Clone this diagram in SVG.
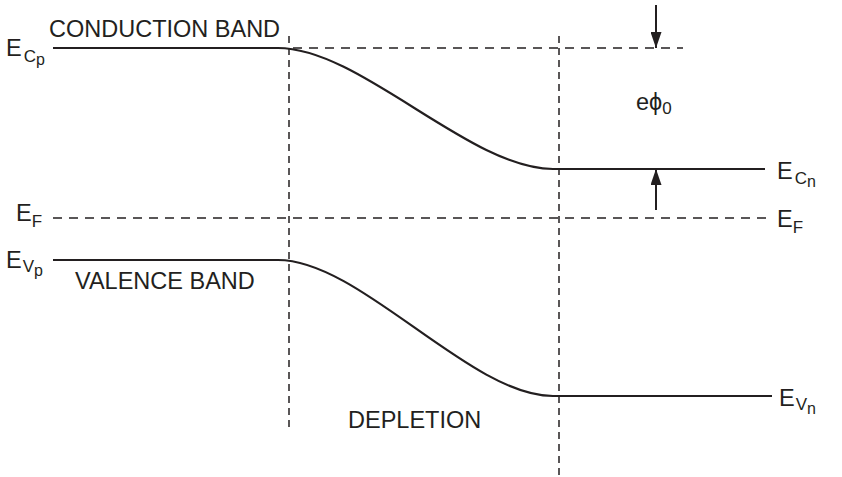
<svg xmlns="http://www.w3.org/2000/svg" width="842" height="477" viewBox="0 0 842 477">
<defs>
<style>
.band{fill:none;stroke:#231f20;stroke-width:2.2}
.dash{fill:none;stroke:#231f20;stroke-width:1.5;stroke-dasharray:9 7}
.vdash{fill:none;stroke:#231f20;stroke-width:1.5;stroke-dasharray:7 5}
.arrow{fill:none;stroke:#231f20;stroke-width:2}
text{font-family:"Liberation Sans",Arial,sans-serif;fill:#231f20}
.lbl{font-size:23.5px}
.sub{font-size:17px}
.sub2{font-size:16px}
</style>
<marker id="ah" markerWidth="16" markerHeight="11" refX="16" refY="5.5" orient="auto" markerUnits="userSpaceOnUse" viewBox="0 0 16 11">
<path d="M0,0 L16,5.5 L0,11 Z" fill="#231f20"/>
</marker>
</defs>
<rect width="842" height="477" fill="#fff"/>
<g id="connectors">
<line class="dash" x1="293" y1="48" x2="683" y2="48"/>
<line class="dash" x1="53" y1="218" x2="767" y2="218"/>
<line class="vdash" x1="289" y1="36" x2="289" y2="432"/>
<line class="vdash" x1="559" y1="36" x2="559" y2="477"/>
<line class="arrow" x1="656" y1="5" x2="656" y2="48" marker-end="url(#ah)"/>
<line class="arrow" x1="656" y1="210" x2="656" y2="169" marker-end="url(#ah)"/>
</g>
<g id="conduction-band">
<path class="band" d="M53,48 L278,48 C360,48 470,169 553,169 L765,169"/>
</g>
<g id="valence-band">
<path class="band" d="M53,260 L278,260 C360,260 470,396 553,396 L772,396"/>
</g>
<g id="labels">
<text class="lbl" x="49" y="37">CONDUCTION BAND</text>
<text class="lbl" x="6" y="56">E<tspan class="sub" dx="2" dy="6">C</tspan><tspan class="sub2" dy="3">p</tspan></text>
<text class="lbl" x="636" y="110">eϕ<tspan class="sub" dy="4">0</tspan></text>
<text class="lbl" x="777" y="179">E<tspan class="sub" dx="2" dy="5">C</tspan><tspan class="sub2" dy="3">n</tspan></text>
<text class="lbl" x="16" y="221">E<tspan class="sub" dy="6">F</tspan></text>
<text class="lbl" x="777" y="227">E<tspan class="sub" dy="6">F</tspan></text>
<text class="lbl" x="6" y="268">E<tspan class="sub" dx="1" dy="4">V</tspan><tspan class="sub2" dy="4">p</tspan></text>
<text class="lbl" x="75" y="289">VALENCE BAND</text>
<text class="lbl" x="779" y="406">E<tspan class="sub" dx="1" dy="4">V</tspan><tspan class="sub2" dy="4">n</tspan></text>
<text class="lbl" x="348" y="428">DEPLETION</text>
</g>
</svg>
